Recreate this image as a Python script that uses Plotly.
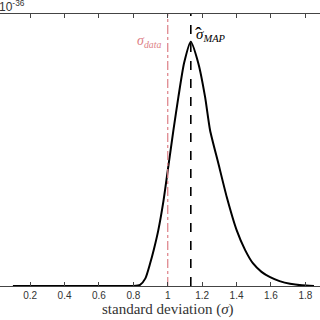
import plotly.graph_objects as go

# sigma values and posterior density (units of 1e-36)
sigma = [0.10, 0.30, 0.50, 0.70, 0.80, 0.839, 0.87, 0.897, 0.92, 0.945, 0.975, 1.003, 1.033, 1.062, 1.095,
         1.134, 1.178, 1.217, 1.246, 1.294, 1.343, 1.401, 1.45, 1.496, 1.545, 1.595, 1.65, 1.711, 1.78, 1.85]
density = [0.0, 0.0, 0.0, 0.0, 0.0, 0.01, 0.07, 0.204, 0.34, 0.511, 0.78, 1.094, 1.432, 1.738, 2.049,
           2.245, 2.046, 1.738, 1.432, 1.128, 0.818, 0.511, 0.33, 0.207, 0.13, 0.081, 0.045, 0.02, 0.006, 0.0]
sigma_data = 1.0
sigma_map = 1.134
x_ticks = [0.2, 0.4, 0.6, 0.8, 1.0, 1.2, 1.4, 1.6, 1.8]
x_tick_labels = ["0.2", "0.4", "0.6", "0.8", "1", "1.2", "1.4", "1.6", "1.8"]
y_max = 2.5

fig = go.Figure()
fig.add_trace(go.Scatter(x=sigma, y=density, mode="lines",
                         line=dict(color="black", width=2, shape="spline", smoothing=0.6),
                         hoverinfo="skip", showlegend=False))
fig.add_trace(go.Scatter(x=[sigma_data, sigma_data], y=[0, y_max], mode="lines",
                         line=dict(color="#dd7f86", width=1.2, dash="dashdot"),
                         showlegend=False))
fig.add_trace(go.Scatter(x=[sigma_map, sigma_map], y=[0, y_max], mode="lines",
                         line=dict(color="black", width=1.6, dash="dash"),
                         showlegend=False))

fig.add_annotation(x=sigma_data, y=2.25, xref="x", yref="y", xanchor="right", yanchor="middle",
                   xshift=-5, showarrow=False,
                   text="<i>σ<sub>data</sub></i>",
                   font=dict(family="Liberation Serif", size=14, color="#dd7f86"))
fig.add_annotation(x=sigma_map, y=2.31, xref="x", yref="y", xanchor="left", yanchor="middle",
                   xshift=3, showarrow=False,
                   text="<i>σ<sub>MAP</sub></i>",
                   font=dict(family="Liberation Serif", size=15, color="black"))
fig.add_annotation(x=sigma_map, y=2.31, xref="x", yref="y", xanchor="left", yanchor="bottom",
                   xshift=2, yshift=-13, showarrow=False,
                   text="ˆ",
                   font=dict(family="Liberation Serif", size=20, color="black"))
fig.add_annotation(x=1.0, y=-0.085, xref="x", yref="paper",
                   xanchor="center", yanchor="middle",
                   showarrow=False, text="standard deviation (<i>σ</i>)",
                   font=dict(family="Liberation Serif", size=15, color="#333333"))
fig.add_annotation(x=0.085, y=1.0, xref="paper", yref="paper", xanchor="right", yanchor="bottom",
                   yshift=-2, showarrow=False, text="×10<sup>-36</sup>",
                   font=dict(family="Liberation Sans", size=12, color="#333333"))

fig.update_layout(
    width=320, height=320,
    margin=dict(l=0, r=0, t=14, b=34),
    paper_bgcolor="white", plot_bgcolor="white",
    xaxis=dict(range=[0.025, 1.885], tickvals=x_ticks, ticktext=x_tick_labels,
               ticks="inside", ticklen=4, tickcolor="#444", showline=True, linecolor="#444",
               linewidth=1, mirror="ticks", showgrid=False, zeroline=False,
               tickfont=dict(family="Liberation Sans", size=10, color="#333333")),
    yaxis=dict(range=[0, y_max], showticklabels=False, ticks="", showline=False,
               showgrid=False, zeroline=False),
)
fig.write_html("out.html", config={"displayModeBar": False},
               post_script="document.body.style.margin='0';document.body.style.overflow='hidden';")
